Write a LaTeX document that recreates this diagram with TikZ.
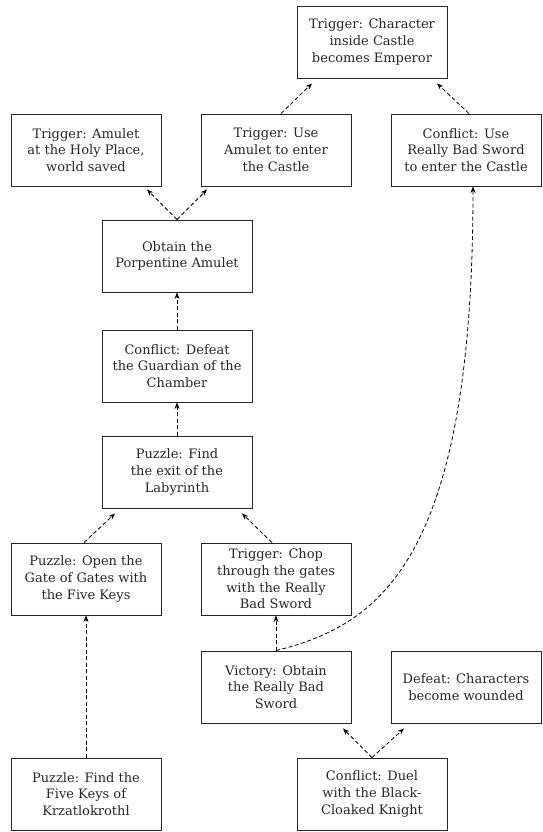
\documentclass[tikz,border=0pt]{standalone}
\usepackage{fontspec}
\setmainfont{DejaVu Serif}
\usetikzlibrary{arrows.meta}
\begin{document}
\begin{tikzpicture}[x=1pt,y=-1pt,
  box/.style={draw=black!85,line width=0.9pt,minimum width=150pt,minimum height=72pt,
    align=center,inner sep=2pt,font=\fontsize{13}{16.7}\selectfont,text=black!85},
  link/.style={draw=black,line width=0.8pt,dash pattern=on 4pt off 2.5pt,
    -{Stealth[length=6.5pt,width=5pt]}}]
\useasboundingbox (0,0) rectangle (543,832);
\node[box] (emperor) at (372,42) {Trigger: Character\\inside Castle\\becomes Emperor};
\node[box] (holy) at (86,150) {Trigger: Amulet\\at the Holy Place,\\world saved};
\node[box] (useamulet) at (276,150) {Trigger: Use\\Amulet to enter\\the Castle};
\node[box] (usesword) at (466,150) {Conflict: Use\\Really Bad Sword\\to enter the Castle};
\node[box] (obtain) at (177,256) {Obtain the\\Porpentine Amulet};
\node[box] (guardian) at (177,366) {Conflict: Defeat\\the Guardian of the\\Chamber};
\node[box] (exit) at (177,472) {Puzzle: Find\\the exit of the\\Labyrinth};
\node[box] (gate) at (86,579) {Puzzle: Open the\\Gate of Gates with\\the Five Keys};
\node[box] (chop) at (276,579) {Trigger: Chop\\through the gates\\with the Really\\Bad Sword};
\node[box] (victory) at (276,687) {Victory: Obtain\\the Really Bad\\Sword};
\node[box] (wound) at (466,687) {Defeat: Characters\\become wounded};
\node[box] (duel) at (372,794) {Conflict: Duel\\with the Black-\\Cloaked Knight};
\node[box] (keys) at (86,794) {Puzzle: Find the\\Five Keys of\\Krzatlokrothl};

\coordinate (holyin) at ([shift={(61pt,-3pt)}]holy.south);
\coordinate (useain) at ([shift={(-69pt,-3pt)}]useamulet.south);
\coordinate (emp1) at ([shift={(-60pt,-5pt)}]emperor.south);
\coordinate (emp2) at ([shift={(65pt,-5pt)}]emperor.south);
\coordinate (exit1) at ([shift={(-62pt,-5pt)}]exit.south);
\coordinate (exit2) at ([shift={(65pt,-5pt)}]exit.south);
\coordinate (victin) at ([shift={(67pt,-5pt)}]victory.south);
\coordinate (woundin) at ([shift={(-62pt,-5pt)}]wound.south);

\draw[link] (obtain.north) -- (holyin);
\draw[link] (obtain.north) -- (useain);
\draw[link] ([xshift=5pt]useamulet.north) -- (emp1);
\draw[link] ([xshift=3pt]usesword.north) -- (emp2);
\draw[link] (guardian.north) -- (obtain.south);
\draw[link] (exit.north) -- (guardian.south);
\draw[link] ([xshift=-2pt]gate.north) -- (exit1);
\draw[link] ([xshift=-4pt]chop.north) -- (exit2);
\draw[link] (keys.north) -- (gate.south);
\draw[link] (victory.north) -- (chop.south);
\draw[link] (victory.north) .. controls (380,625) and ([xshift=7pt]usesword.south |- 0,560) .. ([xshift=7pt]usesword.south);
\draw[link] (duel.north) -- (victin);
\draw[link] (duel.north) -- (woundin);
\end{tikzpicture}
\end{document}
